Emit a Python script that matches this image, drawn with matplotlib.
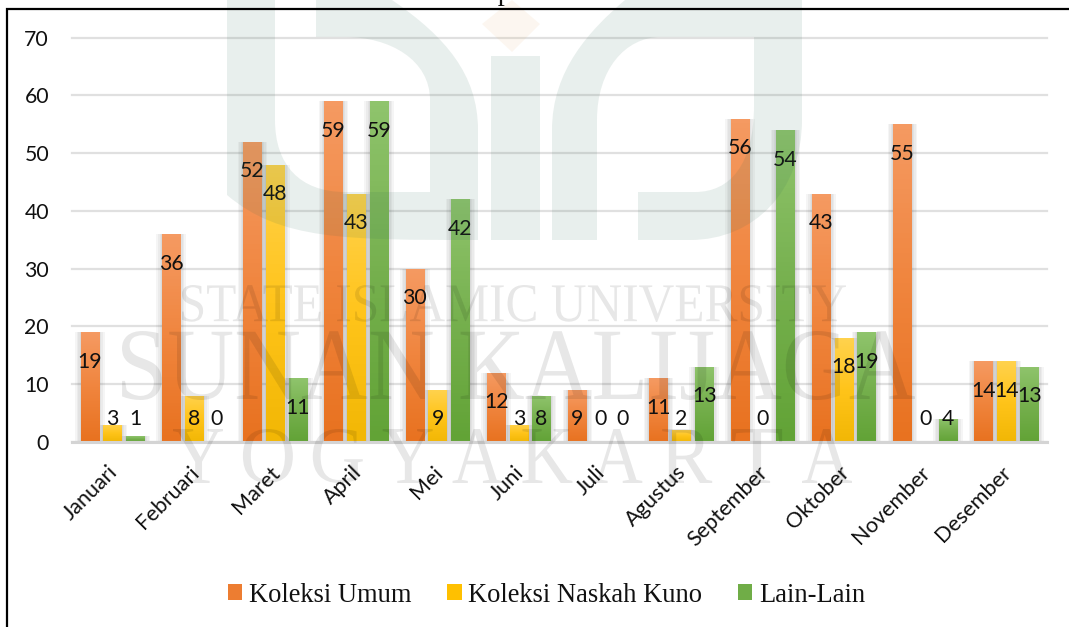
import numpy as np
import matplotlib
matplotlib.use('Agg')
import matplotlib.pyplot as plt
from matplotlib.colors import LinearSegmentedColormap
from matplotlib.font_manager import FontProperties
from matplotlib.patches import PathPatch, Polygon
from matplotlib.path import Path
from matplotlib.textpath import TextPath
from matplotlib.transforms import Affine2D, ScaledTranslation

# --- Data ---
months = ['Januari', 'Februari', 'Maret', 'April', 'Mei', 'Juni', 'Juli',
          'Agustus', 'September', 'Oktober', 'November', 'Desember']
koleksi_umum = [19, 36, 52, 59, 30, 12, 9, 11, 56, 43, 55, 14]
koleksi_naskah = [3, 8, 48, 43, 9, 3, 0, 2, 0, 18, 0, 14]
lain_lain = [1, 0, 11, 59, 42, 8, 0, 13, 54, 19, 4, 13]
series_names = ['Koleksi Umum', 'Koleksi Naskah Kuno', 'Lain-Lain']
y_ticks = [0, 10, 20, 30, 40, 50, 60, 70]

W, H = 1069, 627
plt.rcParams['font.family'] = ['Lato', 'DejaVu Sans']
serif = 'Liberation Serif'

series = [koleksi_umum, koleksi_naskah, lain_lain]
mid_colors = ['#ED7D31', '#FFC000', '#70AD47']
# top to bottom shading of each bar
shades = [['#F59A62', '#F0853E', '#E87220'],
          ['#FFD24D', '#FFC41A', '#F2B705'],
          ['#8FC46C', '#76B04E', '#62A336']]

fig = plt.figure(figsize=(W / 100, H / 100), dpi=100)
ax = fig.add_axes([72 / W, 1 - 442 / H, (1047 - 72) / W, (442 - 37.7) / H])

x = np.arange(len(months))
bar_w = 0.225
step = 0.28

# --- Bars with soft shadow and gradient ---
for i, vals in enumerate(series):
    pos = x + (i - 1) * step
    for extra in [0.14, 0.10, 0.06, 0.03]:
        ax.bar(pos, vals, bar_w + extra, color='#555555', alpha=0.06, zorder=2, linewidth=0)
    bars = ax.bar(pos, vals, bar_w, color=mid_colors[i], label=series_names[i], zorder=3)
    cmap = LinearSegmentedColormap.from_list('s%d' % i, shades[i])
    for b in bars:
        if b.get_height() == 0:
            continue
        im = ax.imshow(np.linspace(0, 1, 64).reshape(-1, 1), cmap=cmap, aspect='auto', zorder=4,
                       extent=(b.get_x(), b.get_x() + b.get_width(), 0, b.get_height()),
                       origin='upper')
        im.set_clip_path(b)
    for p, v in zip(pos, vals):
        ax.text(p, max(v - 5.1, 4.05), str(v), ha='center', va='center', fontsize=15.3,
                color='#111111', zorder=6, clip_on=False)

ax.set_xlim(-0.5, len(months) - 0.5)
ax.set_ylim(0, 70)
ax.set_yticks(y_ticks)
ax.set_xticks(x)
ax.set_xticklabels(months, rotation=45, ha='right', va='top', rotation_mode='anchor')
ax.tick_params(axis='y', length=0, pad=16.5, labelsize=15.3, labelcolor='#111111')
ax.tick_params(axis='x', length=0, pad=14.5, labelsize=15.6, labelcolor='#111111')
# labels sit a little left of the group centre
shift = ScaledTranslation(-5 / 100, 0, fig.dpi_scale_trans)
for lab in ax.get_xticklabels():
    lab.set_transform(lab.get_transform() + shift)
ax.grid(axis='y', color='#E0E0E0', linewidth=1.6, zorder=1, clip_on=False)
ax.set_axisbelow(True)
for s in ['top', 'right', 'left']:
    ax.spines[s].set_visible(False)
ax.spines['bottom'].set_color('#D4D4D4')
ax.spines['bottom'].set_linewidth(2.2)
ax.spines['bottom'].set_zorder(5)
ax.patch.set_alpha(0)

leg = fig.legend(loc='center', bbox_to_anchor=(546.5 / W, 1 - 595 / H), ncol=3, frameon=False,
                 prop={'family': serif, 'size': 19.1}, handlelength=0.55, handleheight=0.58,
                 handletextpad=0.26, columnspacing=1.33, labelcolor='#111111')

# --- Page overlay: frame, clipped caption, watermark (pixel coordinates) ---
ov = fig.add_axes([0, 0, 1, 1], zorder=10)
ov.set_xlim(0, W)
ov.set_ylim(H, 0)
ov.axis('off')
ov.patch.set_alpha(0)

ov.plot([7, 7, W], [H, 9, 9], color='black', linewidth=1.6, solid_joinstyle='miter')
ov.text(538, 0.5, 'Grafik Data Koleksi Kepemilikan Koleksi Tahun 2016', family=serif, fontsize=20.6,
        ha='center', va='baseline', color='#111111')

logo = '#2F6B55'
logo_a = 0.105
M, L, C, Z = Path.MOVETO, Path.LINETO, Path.CURVE4, Path.CLOSEPOLY


def blob(verts, codes, color=logo, alpha=logo_a):
    ov.add_patch(PathPatch(Path(verts, codes), facecolor=color, edgecolor='none', alpha=alpha))


# left U
blob([(227, 0), (275, 0), (275, 120), (275, 165), (300, 192), (345, 192), (430, 192), (430, 100),
      (430, 60), (390, 37), (345, 37), (316, 37), (316, 0), (392, 0), (446, 37), (478, 75), (478, 130),
      (478, 240), (345, 240), (280, 240), (227, 195), (227, 130), (227, 0)],
     [M, L, L, C, C, C, L, L, C, C, C, L, L, L, C, C, C, L, C, C, C, L, Z])
# middle stem and dot
blob([(491, 56), (540, 56), (540, 240), (491, 240), (491, 56)], [M, L, L, L, Z])
ov.add_patch(Polygon([(512, 0), (540, 24), (512, 52), (482, 24)], facecolor='#E8B070', edgecolor='none', alpha=0.1))
# right r
blob([(552, 240), (552, 130), (552, 70), (590, 30), (625, 0), (802, 0), (802, 120), (802, 190), (755, 240),
      (690, 240), (638, 240), (638, 192), (695, 192), (730, 192), (754, 165), (754, 105), (754, 37),
      (661, 37), (625, 37), (597, 70), (597, 120), (597, 240), (552, 240)],
     [M, L, C, C, C, L, L, C, C, C, L, L, L, C, C, C, L, L, C, C, C, L, Z])


def wm_text(s, x0, x1, y0, y1):
    # fit text into a pixel box, y axis points down
    tp = TextPath((0, 0), s, size=100, prop=FontProperties(family=serif))
    bb = tp.get_extents()
    tr = Affine2D().translate(-bb.x0, -bb.y0).scale((x1 - x0) / bb.width, -(y1 - y0) / bb.height).translate(x0, y1)
    ov.add_patch(PathPatch(tr.transform_path(tp), facecolor='black', edgecolor='none', alpha=0.095))


wm_text('STATE ISLAMIC UNIVERSITY', 182, 846, 285, 322)
wm_text('SUNAN KALIJAGA', 122, 915, 331, 400)
for ch, xc in zip('YOGYAKARTA', np.linspace(198, 827, 10)):
    wm_text(ch, xc - 25, xc + 25, 429, 483)

fig.savefig('out.png', dpi=100)
